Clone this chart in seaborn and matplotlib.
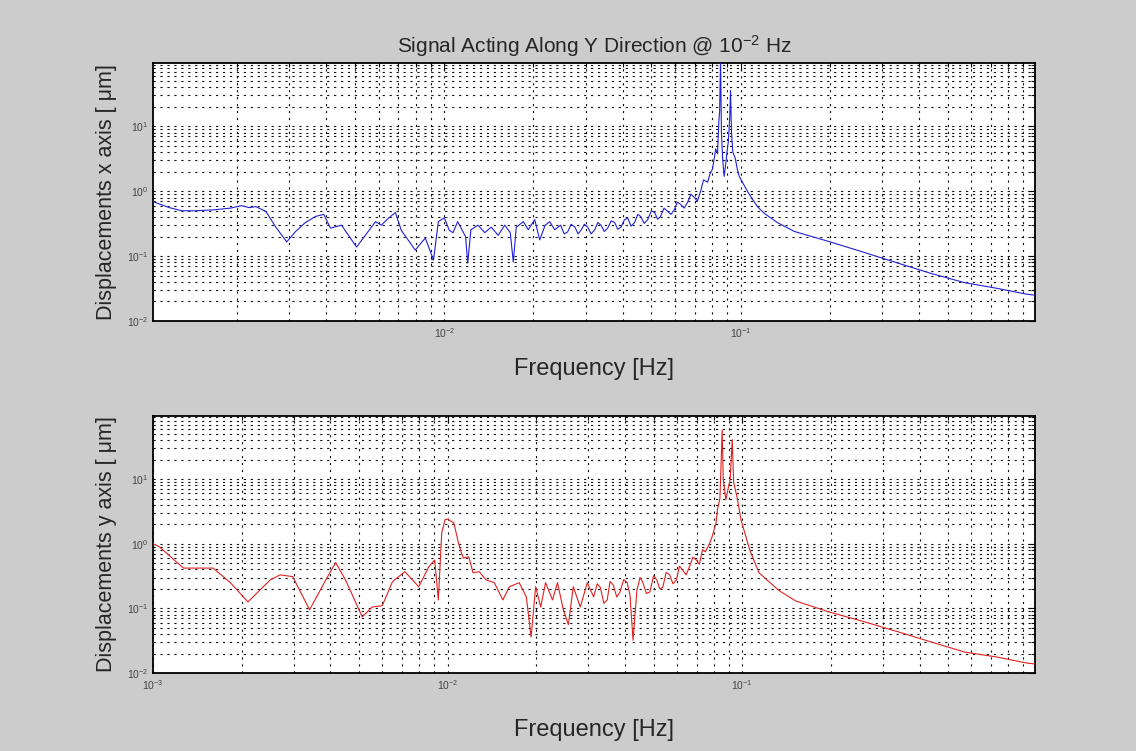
import numpy as np
import pandas as pd
import matplotlib
matplotlib.use("Agg")
import matplotlib.pyplot as plt
import seaborn as sns
from matplotlib.ticker import LogLocator, LogFormatterSciNotation, NullFormatter

# ---------------- data ----------------
freq_x = [1.00e-3, 1.05e-3, 1.18e-3, 1.30e-3, 1.45e-3, 1.69e-3, 1.90e-3, 2.07e-3, 2.20e-3, 2.31e-3,
          2.50e-3, 2.70e-3, 2.94e-3, 3.15e-3, 3.40e-3, 3.68e-3, 3.92e-3, 4.13e-3, 4.50e-3, 5.06e-3,
          5.42e-3, 5.86e-3, 6.13e-3, 6.50e-3, 6.84e-3, 7.16e-3, 7.98e-3, 8.63e-3, 9.20e-3, 9.55e-3,
          1.00e-2, 1.04e-2, 1.07e-2, 1.11e-2, 1.18e-2, 1.20e-2, 1.23e-2, 1.30e-2, 1.37e-2, 1.44e-2,
          1.52e-2, 1.60e-2, 1.67e-2, 1.71e-2, 1.75e-2, 1.85e-2, 1.92e-2, 2.02e-2, 2.10e-2, 2.19e-2,
          2.27e-2, 2.36e-2, 2.47e-2, 2.54e-2, 2.61e-2, 2.68e-2, 2.76e-2, 2.83e-2, 2.90e-2, 2.97e-2,
          3.05e-2, 3.13e-2, 3.22e-2, 3.30e-2, 3.38e-2, 3.47e-2, 3.56e-2, 3.66e-2, 3.76e-2, 3.85e-2,
          3.95e-2, 4.05e-2, 4.16e-2, 4.27e-2, 4.39e-2, 4.50e-2, 4.60e-2, 4.73e-2, 4.86e-2, 5.00e-2,
          5.13e-2, 5.25e-2, 5.37e-2, 5.52e-2, 5.67e-2, 5.82e-2, 5.98e-2, 6.12e-2, 6.27e-2, 6.45e-2,
          6.62e-2, 6.80e-2, 6.99e-2, 7.15e-2, 7.33e-2, 7.50e-2, 7.74e-2, 7.90e-2, 8.04e-2, 8.15e-2,
          8.24e-2, 8.36e-2, 8.45e-2, 8.50e-2, 8.56e-2, 8.62e-2, 8.70e-2, 8.80e-2, 8.90e-2, 9.00e-2,
          9.10e-2, 9.20e-2, 9.25e-2, 9.32e-2, 9.42e-2, 9.60e-2, 9.75e-2, 9.90e-2, 0.106, 0.114,
          0.120, 0.133, 0.152, 0.197, 0.26, 0.34, 0.44, 0.57, 0.73, 0.92, 0.98]
disp_x = [0.70, 0.68, 0.56, 0.50, 0.50, 0.52, 0.55, 0.60, 0.56, 0.58,
          0.49, 0.28, 0.166, 0.24, 0.33, 0.41, 0.44, 0.27, 0.30, 0.138,
          0.21, 0.34, 0.30, 0.39, 0.47, 0.25, 0.124, 0.19, 0.087, 0.34,
          0.39, 0.25, 0.23, 0.34, 0.20, 0.078, 0.255, 0.30, 0.23, 0.28,
          0.21, 0.30, 0.23, 0.081, 0.28, 0.34, 0.255, 0.365, 0.178, 0.30,
          0.34, 0.255, 0.30, 0.22, 0.237, 0.31, 0.28, 0.22, 0.255, 0.31,
          0.28, 0.22, 0.255, 0.33, 0.30, 0.24, 0.27, 0.35, 0.33, 0.26,
          0.28, 0.36, 0.39, 0.29, 0.33, 0.44, 0.41, 0.32, 0.365, 0.50,
          0.47, 0.37, 0.41, 0.55, 0.49, 0.44, 0.52, 0.68, 0.63, 0.55,
          0.67, 0.90, 0.80, 0.70, 1.0, 1.5, 1.38, 1.9, 2.2, 3.2,
          4.5, 3.8, 12.0, 17.0, 120.0, 8.0, 3.2, 1.7, 2.5, 4.0,
          6.0, 15.0, 36.0, 8.0, 4.0, 3.2, 2.2, 1.7, 0.96, 0.58,
          0.46, 0.33, 0.24, 0.17, 0.115, 0.078, 0.054, 0.039, 0.032, 0.026, 0.025]

freq_y = [1.00e-3, 1.05e-3, 1.18e-3, 1.27e-3, 1.45e-3, 1.60e-3, 1.83e-3, 2.10e-3, 2.50e-3, 2.70e-3,
          2.98e-3, 3.40e-3, 3.86e-3, 4.17e-3, 4.50e-3, 5.13e-3, 5.55e-3, 6.00e-3, 6.50e-3, 7.16e-3,
          7.98e-3, 8.63e-3, 9.04e-3, 9.30e-3, 9.55e-3, 9.80e-3, 1.00e-2, 1.05e-2, 1.09e-2, 1.13e-2,
          1.18e-2, 1.22e-2, 1.28e-2, 1.35e-2, 1.44e-2, 1.54e-2, 1.62e-2, 1.75e-2, 1.85e-2, 1.92e-2,
          1.99e-2, 2.07e-2, 2.15e-2, 2.27e-2, 2.36e-2, 2.47e-2, 2.57e-2, 2.67e-2, 2.82e-2, 2.98e-2,
          3.13e-2, 3.22e-2, 3.30e-2, 3.39e-2, 3.48e-2, 3.56e-2, 3.65e-2, 3.75e-2, 3.85e-2, 3.96e-2,
          4.07e-2, 4.16e-2, 4.26e-2, 4.39e-2, 4.50e-2, 4.60e-2, 4.73e-2, 4.86e-2, 5.00e-2, 5.13e-2,
          5.25e-2, 5.37e-2, 5.52e-2, 5.67e-2, 5.82e-2, 5.98e-2, 6.12e-2, 6.27e-2, 6.45e-2, 6.62e-2,
          6.80e-2, 6.99e-2, 7.15e-2, 7.33e-2, 7.50e-2, 7.74e-2, 7.90e-2, 8.04e-2, 8.15e-2, 8.24e-2,
          8.40e-2, 8.55e-2, 8.62e-2, 8.80e-2, 8.95e-2, 9.10e-2, 9.25e-2, 9.35e-2, 9.60e-2, 9.90e-2,
          0.106, 0.114, 0.133, 0.152, 0.197, 0.26, 0.34, 0.44, 0.57, 0.73, 0.92, 0.98]
disp_y = [1.0, 0.90, 0.56, 0.42, 0.42, 0.42, 0.25, 0.126, 0.276, 0.33,
          0.31, 0.095, 0.276, 0.51, 0.276, 0.074, 0.105, 0.11, 0.26, 0.37,
          0.216, 0.44, 0.56, 0.135, 1.48, 2.36, 2.4, 2.1, 1.0, 0.60,
          0.63, 0.355, 0.37, 0.276, 0.25, 0.135, 0.216, 0.25, 0.15, 0.036,
          0.216, 0.105, 0.25, 0.135, 0.25, 0.095, 0.056, 0.216, 0.105, 0.25,
          0.15, 0.24, 0.21, 0.12, 0.135, 0.26, 0.23, 0.15, 0.18, 0.28,
          0.25, 0.16, 0.032, 0.19, 0.30, 0.25, 0.17, 0.18, 0.32, 0.276,
          0.20, 0.21, 0.36, 0.33, 0.24, 0.276, 0.45, 0.395, 0.33, 0.44,
          0.62, 0.56, 0.48, 0.81, 0.75, 1.0, 1.28, 1.7, 2.1, 3.4,
          5.0, 58.0, 10.0, 4.8, 7.0, 10.0, 41.0, 9.0, 5.3, 2.36,
          0.81, 0.355, 0.19, 0.13, 0.088, 0.062, 0.043, 0.030, 0.021, 0.0177, 0.0143, 0.0138]

title_text = "Signal Acting Along Y Direction @ 10$^{-2}$ Hz"
xlabel_text = "Frequency [Hz]"
ylabel_top = "Displacements x axis [ \u03bcm]"
ylabel_bot = "Displacements y axis [ \u03bcm]"

# ---------------- style ----------------
sns.set_style("white")
plt.rcParams["font.family"] = ["Liberation Sans", "DejaVu Sans"]
plt.rcParams["mathtext.default"] = "regular"
plt.rcParams["lines.scale_dashes"] = False

fig = plt.figure(figsize=(11.36, 7.51), dpi=100, facecolor="#cccccc")
ax1 = fig.add_axes([0.1347, 0.5726, 0.7763, 0.3435])
ax2 = fig.add_axes([0.1347, 0.1039, 0.7763, 0.3422])

df_x = pd.DataFrame({"f": freq_x, "d": disp_x})
df_y = pd.DataFrame({"f": freq_y, "d": disp_y})

sns.lineplot(data=df_x, x="f", y="d", ax=ax1, color="#2020d8", lw=0.8, sort=False, zorder=3)
sns.lineplot(data=df_y, x="f", y="d", ax=ax2, color="#e02020", lw=0.8, sort=False, zorder=3)

grid_ls = (0, (1.6, 3.4))
for ax, xmin, ylab, xpad in [(ax1, 1.04e-3, ylabel_top, 13), (ax2, 1.0e-3, ylabel_bot, 20)]:
    ax.set_facecolor("white")
    ax.set_xscale("log")
    ax.set_yscale("log")
    ax.set_xlim(xmin, 0.985)
    ax.set_ylim(1e-2, 95)
    ax.xaxis.set_major_locator(LogLocator(base=10, numticks=20))
    ax.xaxis.set_minor_locator(LogLocator(base=10, subs=np.arange(2, 10), numticks=20))
    ax.yaxis.set_major_locator(LogLocator(base=10, numticks=20))
    ax.yaxis.set_minor_locator(LogLocator(base=10, subs=np.arange(2, 10), numticks=20))
    ax.xaxis.set_major_formatter(LogFormatterSciNotation())
    ax.yaxis.set_major_formatter(LogFormatterSciNotation())
    ax.xaxis.set_minor_formatter(NullFormatter())
    ax.yaxis.set_minor_formatter(NullFormatter())
    ax.grid(True, which="both", color="#111111", linestyle=grid_ls, linewidth=0.8, zorder=1)
    ax.set_axisbelow(True)
    ax.tick_params(which="both", direction="in", top=True, right=True, colors="black",
                   labelcolor="#444444", labelsize=7.5, width=0.8)
    ax.tick_params(which="major", length=5)
    ax.tick_params(which="minor", length=3)
    for s in ax.spines.values():
        s.set_color("black")
        s.set_linewidth(1.3)
    ax.set_xlabel(xlabel_text, fontsize=17, labelpad=xpad)
    ax.set_ylabel(ylab, fontsize=15.5, labelpad=7)

ax1.set_title(title_text, fontsize=15, pad=7)

fig.savefig("out.png", dpi=100, facecolor=fig.get_facecolor())
